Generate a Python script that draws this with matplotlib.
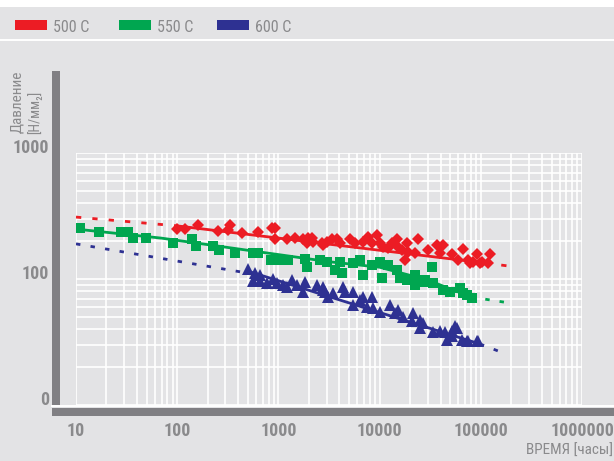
import matplotlib
matplotlib.use("Agg")
import matplotlib.pyplot as plt
from matplotlib import font_manager as fm
from matplotlib.transforms import ScaledTranslation
from matplotlib.patches import Rectangle
from matplotlib.lines import Line2D
from matplotlib.ticker import LogLocator, NullFormatter

# ---------------- data ----------------
series_names = ["500 C", "550 C", "600 C"]
series_colors = ["#ec1c24", "#00a650", "#2e3192"]

red_t = [100, 119, 161, 253, 333, 318, 437, 629, 865, 925, 925, 1216, 1459, 1960, 2148, 2760, 3020,
         1750, 1918, 2198, 2697, 3388, 3793, 4064, 5105, 5714, 6855, 7674, 8414, 9424, 10092, 10813,
         12110, 13280, 14860, 15200, 16650, 18670, 17830, 19100, 23950, 22390, 30080, 36900, 42300,
         39540, 51880, 66700, 74800, 83800, 91700, 102800, 123300, 117800, 59550, 78200, 98200]
red_p = [249, 249, 270, 241, 268, 245, 232, 236, 254, 254, 208, 208, 211, 211, 211, 186, 197,
         208, 193, 197, 193, 208, 208, 193, 208, 193, 197, 215, 193, 223, 193, 180,
         176, 193, 208, 180, 170, 193, 142, 164, 208, 161, 170, 186, 186,
         161, 158, 173, 142, 136, 158, 136, 158, 134, 142, 134, 134]

green_t = [11, 16.9, 27.8, 32.7, 36.6, 49.2, 90.9, 140, 153, 226, 259, 372, 561, 629, 845, 991, 1245,
           1918, 3020, 1832, 2577, 3624, 4250, 4064, 5458, 6400, 6855, 8414, 10092, 10560, 12110,
           14860, 15920, 18670, 22390, 22390, 28100, 32960, 33700, 42300, 49650, 62300, 73100, 81800,
           26850, 66700]
green_p = [254, 236, 236, 236, 211, 211, 193, 208, 183, 183, 170, 161, 161, 161, 142, 142, 142,
           124, 136, 144, 142, 118, 112, 136, 134, 142, 107.6, 129, 136, 102, 129,
           118, 102, 98, 107.6, 89.6, 98, 124, 93, 82, 79, 85, 75, 71,
           94.7, 77.4]

blue_t = [501, 587, 658, 561, 658, 771, 885, 968, 1109, 1362, 1216, 1528, 1750, 1832, 2405, 2760,
          2884, 3090, 2760, 3467, 4345, 4550, 5458, 6400, 6855, 8414, 5458, 7500, 8610, 10092, 12680,
          15200, 14190, 17020, 21380, 25060, 20890, 25060, 26850, 33700, 44300, 51880, 58200, 51880,
          46400, 65200, 73100, 93800, 39540, 55600, 74800, 91700]
blue_p = [120, 112, 108, 96, 96, 93, 100, 93, 90, 98, 87, 90, 79, 95, 90, 87,
          79, 72, 82, 77, 87, 79, 79, 68, 72, 72, 62, 60, 59, 55, 62,
          57, 54, 50, 54, 47, 46, 41, 45, 38, 38, 39, 41, 35,
          33, 33, 32, 32, 39, 42, 32, 32]

# fitted curves (break points)
red_fit_t = [10, 100, 110000, 185000]
red_fit_p = [310, 264, 134, 127]
green_fit_t = [10, 70, 3200, 10000, 30000, 80000, 205000]
green_fit_p = [249, 211, 137, 124, 98, 72, 64]
blue_fit_t = [10, 420, 490, 98000, 175000]
blue_fit_p = [190, 114, 116, 30.5, 25.5]

x_ticks = [10, 100, 1000, 10000, 100000, 1000000]
x_labels = ["10", "100", "1000", "10000", "100000", "1000000"]
y_ticks = [10, 100, 1000]
y_labels = ["0", "100", "1000"]

# ---------------- style ----------------
names = {f.name for f in fm.fontManager.ttflist}
FONT = "DejaVu Sans"
for cand in ["Liberation Sans Narrow", "Roboto Condensed", "Open Sans", "Liberation Sans"]:
    if cand in names:
        FONT = cand
        break
FAM = [FONT, "DejaVu Sans"]
plt.rcParams["font.family"] = FAM

BG = "#e3e3e5"
TXT = "#8a8a8c"
BAR = "#807f83"
W, H = 614, 461

fig = plt.figure(figsize=(W / 100, H / 100), dpi=100, facecolor=BG)


def fx(x):
    return x / W


def fy(y):
    return 1 - y / H


# top white band and white separator line
fig.add_artist(Rectangle((0, fy(7)), 1, 7 / H, transform=fig.transFigure, facecolor="white",
                         edgecolor="none", zorder=0))
fig.add_artist(Line2D([0, 1], [fy(40.5), fy(40.5)], transform=fig.transFigure, color="white", lw=1.4))

# legend
leg_x = [15, 119, 217]
for lx, name, col in zip(leg_x, series_names, series_colors):
    fig.add_artist(Rectangle((fx(lx), fy(30)), 32 / W, 10 / H, transform=fig.transFigure,
                             facecolor=col, edgecolor="none"))
    fig.text(fx(lx + 38), fy(28), name, color=TXT, fontsize=11.5, ha="left", va="center",
             family=FAM)

ax = fig.add_axes([fx(76), fy(405), (582 - 76) / W, (405 - 153) / H])
ax.set_facecolor("none")
ax.set_xscale("log")
ax.set_yscale("log")
ax.set_xlim(10, 1e6)
ax.set_ylim(10, 1000)
for s in ax.spines.values():
    s.set_visible(False)

ax.xaxis.set_minor_locator(LogLocator(base=10, subs=range(2, 10)))
ax.yaxis.set_minor_locator(LogLocator(base=10, subs=range(2, 10)))
ax.xaxis.set_minor_formatter(NullFormatter())
ax.yaxis.set_minor_formatter(NullFormatter())
ax.grid(True, which="both", color="white", lw=1.2, zorder=0)
ax.set_axisbelow(True)

ax.set_xticks(x_ticks)
ax.set_xticklabels(x_labels)
ax.set_yticks(y_ticks)
ax.set_yticklabels(y_labels)
ax.tick_params(which="both", length=0)
ax.tick_params(axis="x", pad=12, labelsize=13, labelcolor=TXT)
ax.tick_params(axis="y", pad=19.5, labelsize=13, labelcolor=TXT)
for lab in ax.get_xticklabels() + ax.get_yticklabels():
    lab.set_fontweight("bold")
    lab.set_family(FAM)
for lab in ax.get_yticklabels():
    lab.set_transform(lab.get_transform() + ScaledTranslation(0, 7 / 100, fig.dpi_scale_trans))


def seg(t, p, i0, i1, col, dashed, on=1.8, off=3.9):
    if dashed:
        ax.plot(t[i0:i1 + 1], p[i0:i1 + 1], color=col, lw=2, linestyle=(0, (on, off)),
                zorder=4, solid_capstyle="butt")
    else:
        ax.plot(t[i0:i1 + 1], p[i0:i1 + 1], color=col, lw=2, linestyle="-", zorder=4)


rc, gc, bc = series_colors
# red
seg(red_fit_t, red_fit_p, 0, 1, rc, True, 1.9, 4.0)
seg(red_fit_t, red_fit_p, 1, 2, rc, False)
seg(red_fit_t, red_fit_p, 2, 3, rc, True, 1.9, 4.0)
# green
seg(green_fit_t, green_fit_p, 0, 5, gc, False)
seg(green_fit_t, green_fit_p, 5, 6, gc, True, 1.6, 3.6)
# blue
seg(blue_fit_t, blue_fit_p, 0, 1, bc, True, 1.6, 3.7)
seg(blue_fit_t, blue_fit_p, 2, 3, bc, False)
seg(blue_fit_t, blue_fit_p, 3, 4, bc, True, 1.6, 3.7)

ax.plot(red_t, red_p, linestyle="none", marker="D", ms=5.8, mew=0, color=rc, zorder=5)
ax.plot(green_t, green_p, linestyle="none", marker="s", ms=7.2, mew=0, color=gc, zorder=5)
ax.plot(blue_t, blue_p, linestyle="none", marker="^", ms=8.0, mew=0, color=bc, zorder=5)

# axis bars
fig.add_artist(Line2D([fx(52), 1], [fy(406), fy(406)], transform=fig.transFigure, color="white", lw=1.4))
fig.add_artist(Rectangle((fx(52), fy(416)), 1, 8 / H, transform=fig.transFigure,
                         facecolor=BAR, edgecolor="none"))
fig.add_artist(Rectangle((fx(52), fy(405)), 8 / W, (405 - 71) / H, transform=fig.transFigure,
                         facecolor=BAR, edgecolor="none"))

# axis titles
fig.text(fx(17), fy(133), "Давление", rotation=90, color=TXT, fontsize=11, ha="center",
         va="bottom", family=FAM)
fig.text(fx(35), fy(134), "[Н/мм\u2082]", rotation=90, color=TXT, fontsize=10, ha="center",
         va="bottom", family=FAM)
fig.text(fx(613), fy(451), "ВРЕМЯ [часы]", color=TXT, fontsize=11, ha="right", va="center",
         family=FAM)

fig.savefig("out.png", dpi=100, facecolor=BG)
